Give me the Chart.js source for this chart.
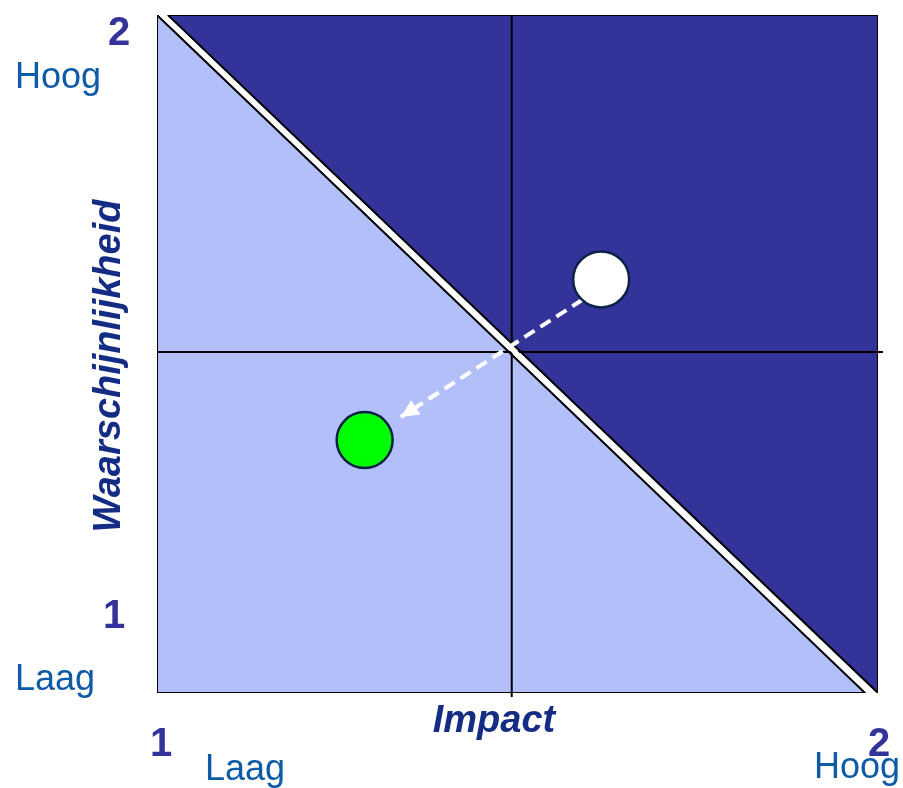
<!DOCTYPE html>
<html>
<head>
<meta charset="utf-8">
<script src="https://cdn.jsdelivr.net/npm/chart.js@4.4.1/dist/chart.umd.min.js"></script>
<style>
  html, body { margin: 0; padding: 0; background: #ffffff; }
  #wrap { width: 903px; height: 788px; }
</style>
</head>
<body>
<div id="wrap"><canvas id="risk-chart" width="903" height="788"></canvas></div>
<script>
// axis range and labels
const impactRange = [1, 2];
const probRange = [1, 2];
const impactTicks = ['1', '2'];
const impactLevels = ['Laag', 'Hoog'];
const probTicks = ['1', '2'];
const probLevels = ['Laag', 'Hoog'];

// zones (data space)
const lowZoneX = [1, 1, 1.982, 1];
const lowZoneY = [2, 1, 1, 2];
const highZoneX = [1.015, 2, 2, 1.015];
const highZoneY = [2, 2, 1, 2];
const diagX = [1.0076, 1.991];
const diagY = [2, 1];
const crossX = 1.492;
const crossY = 1.503;

// risk before / after
const riskNames = ['Voor', 'Na'];
const riskImpact = [1.616, 1.288];
const riskProb = [1.610, 1.373];

// arrow from before to after
const arrowX = [1.590, 1.338];
const arrowY = [1.580, 1.407];

const zip = (xs, ys) => xs.map((x, i) => ({ x: x, y: ys[i] }));

const arrowHead = {
  id: 'arrowHead',
  afterDatasetsDraw(chart) {
    const { ctx, scales: { x, y } } = chart;
    const x0 = x.getPixelForValue(arrowX[0]), y0 = y.getPixelForValue(arrowY[0]);
    const x1 = x.getPixelForValue(arrowX[1]), y1 = y.getPixelForValue(arrowY[1]);
    const a = Math.atan2(y1 - y0, x1 - x0);
    const len = 18, half = 8.5;
    ctx.save();
    ctx.fillStyle = '#ffffff';
    ctx.beginPath();
    ctx.moveTo(x1, y1);
    ctx.lineTo(x1 - len * Math.cos(a) + half * Math.sin(a), y1 - len * Math.sin(a) - half * Math.cos(a));
    ctx.lineTo(x1 - len * Math.cos(a) - half * Math.sin(a), y1 - len * Math.sin(a) + half * Math.cos(a));
    ctx.closePath();
    ctx.fill();
    ctx.restore();
  }
};

const labelsPlugin = {
  id: 'labelsPlugin',
  afterDraw(chart) {
    const { ctx, chartArea: ca } = chart;
    const num = 'bold 40px "Liberation Sans", Arial, sans-serif';
    const lvl = '36px "Liberation Sans", Arial, sans-serif';
    const ttl = 'italic bold 38px "Liberation Sans", Arial, sans-serif';
    ctx.save();
    ctx.textBaseline = 'alphabetic';

    // y axis
    ctx.fillStyle = '#333399';
    ctx.font = num;
    ctx.textAlign = 'center';
    ctx.fillText(probTicks[1], ca.left - 38, ca.top + 30);
    ctx.fillText(probTicks[0], ca.left - 43, ca.bottom - 65);
    ctx.fillStyle = '#0d5aa7';
    ctx.font = lvl;
    ctx.textAlign = 'left';
    ctx.fillText(probLevels[1], 15, ca.top + 73);
    ctx.fillText(probLevels[0], 15, ca.bottom - 3);

    // x axis
    ctx.fillStyle = '#333399';
    ctx.font = num;
    ctx.textAlign = 'center';
    ctx.fillText(impactTicks[0], ca.left + 4, ca.bottom + 63);
    ctx.fillText(impactTicks[1], ca.right + 1, ca.bottom + 63);
    ctx.fillStyle = '#0d5aa7';
    ctx.font = lvl;
    ctx.textAlign = 'left';
    ctx.fillText(impactLevels[0], ca.left + 48, ca.bottom + 87);
    ctx.textAlign = 'right';
    ctx.fillText(impactLevels[1], 900, ca.bottom + 85);

    // titles
    ctx.fillStyle = '#142c84';
    ctx.font = ttl;
    ctx.textAlign = 'center';
    ctx.fillText('Impact', 494, ca.bottom + 39);
    ctx.translate(120, 366);
    ctx.rotate(-Math.PI / 2);
    ctx.fillText('Waarschijnlijkheid', 0, 0);
    ctx.restore();
  }
};

const config = {
  type: 'scatter',
  data: {
    datasets: [
      {
        label: 'Risico',
        data: zip(riskImpact, riskProb),
        backgroundColor: ['#ffffff', '#00ff00'],
        borderColor: '#0b2145',
        borderWidth: 2.5,
        pointRadius: 28,
        pointHoverRadius: 28,
        order: 0
      },
      {
        label: 'Pijl',
        data: zip(arrowX, arrowY),
        showLine: true,
        borderColor: '#ffffff',
        borderWidth: 4,
        borderDash: [12, 7],
        pointRadius: 0,
        order: 1
      },
      {
        label: 'Diagonaal',
        data: zip(diagX, diagY),
        showLine: true,
        borderColor: '#ffffff',
        borderWidth: 5,
        borderCapStyle: 'square',
        pointRadius: 0,
        clip: 0,
        order: 2
      },
      {
        label: 'Kruis V',
        data: [{ x: crossX, y: probRange[0] - 0.006 }, { x: crossX, y: probRange[1] }],
        showLine: true,
        borderColor: '#000000',
        borderWidth: 2,
        pointRadius: 0,
        clip: 6,
        order: 3
      },
      {
        label: 'Kruis H',
        data: [{ x: impactRange[0], y: crossY }, { x: impactRange[1] + 0.007, y: crossY }],
        showLine: true,
        borderColor: '#000000',
        borderWidth: 2,
        pointRadius: 0,
        clip: 6,
        order: 3
      },
      {
        label: 'Hoog risico',
        data: zip(highZoneX, highZoneY),
        showLine: true,
        fill: 'shape',
        backgroundColor: '#343399',
        borderColor: '#000000',
        borderWidth: 2,
        pointRadius: 0,
        order: 4
      },
      {
        label: 'Laag risico',
        data: zip(lowZoneX, lowZoneY),
        showLine: true,
        fill: 'shape',
        backgroundColor: '#b3bff9',
        borderColor: '#000000',
        borderWidth: 2,
        pointRadius: 0,
        order: 5
      }
    ]
  },
  options: {
    responsive: false,
    maintainAspectRatio: false,
    animation: false,
    layout: { autoPadding: false, padding: { left: 157, top: 15, right: 25, bottom: 95 } },
    plugins: {
      legend: { display: false },
      tooltip: { enabled: false }
    },
    scales: {
      x: { type: 'linear', min: impactRange[0], max: impactRange[1], display: false },
      y: { type: 'linear', min: probRange[0], max: probRange[1], display: false }
    }
  },
  plugins: [arrowHead, labelsPlugin]
};

new Chart(document.getElementById('risk-chart'), config);
</script>
</body>
</html>
